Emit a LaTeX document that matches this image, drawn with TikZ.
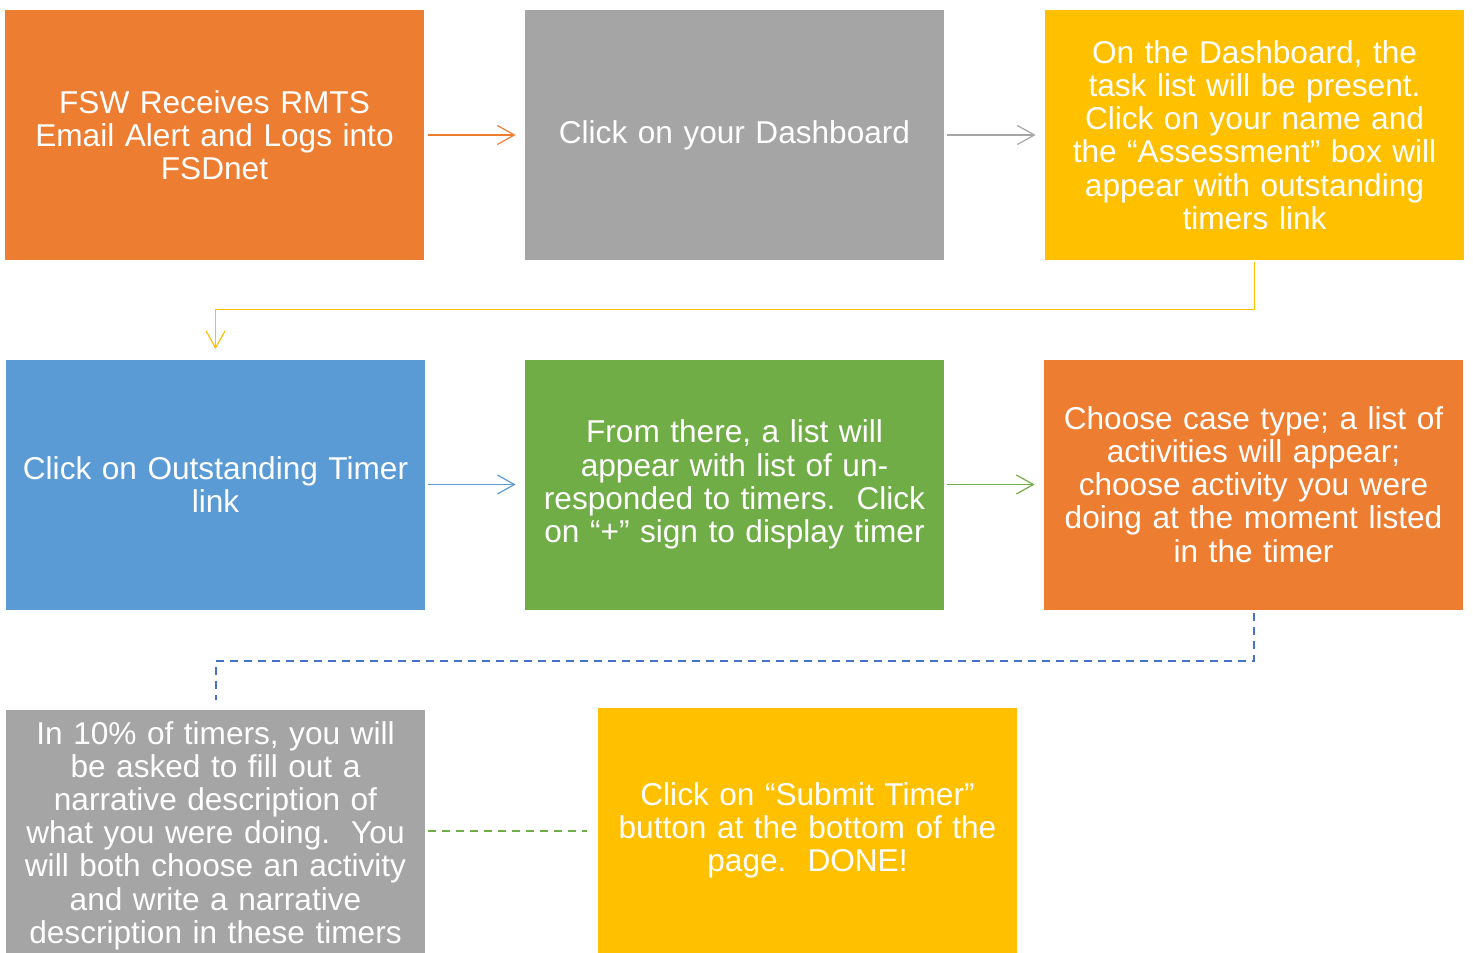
\documentclass[tikz,border=0pt]{standalone}
\usepackage{fontspec}
\setmainfont{Liberation Sans}
\usetikzlibrary{arrows.meta}

\definecolor{boxorange}{HTML}{ED7D31}
\definecolor{boxgray}{HTML}{A5A5A5}
\definecolor{boxyellow}{HTML}{FFC000}
\definecolor{boxblue}{HTML}{5B9BD5}
\definecolor{boxgreen}{HTML}{70AD47}
\definecolor{dashblue}{HTML}{4472C4}

\begin{document}
\begin{tikzpicture}[x=0.5pt, y=-0.5pt,
	stepbox/.style={minimum width=209.5pt, minimum height=125pt, inner sep=0pt,
		text width=207pt, align=center, text=white, font=\fontsize{15.8}{16.6}\selectfont},
	link/.style={line width=0.6pt, -{Straight Barb[length=8.5pt,width=9.5pt]}},
	dashlink/.style={line width=1pt, dash pattern=on 4pt off 3pt}]

\useasboundingbox (0,0) rectangle (1473,953);

%% first row
\node[stepbox, fill=boxorange] (rmts) at (214.5,135) {FSW Receives RMTS\\Email Alert and Logs into\\FSDnet};
\node[stepbox, fill=boxgray] (dash) at (734.5,135) {Click on your Dashboard};
\node[stepbox, fill=boxyellow] (task) at (1254.5,135) {On the Dashboard, the\\task list will be present.\\Click on your name and\\the “Assessment” box will\\appear with outstanding\\timers link};

%% second row
\node[stepbox, fill=boxblue] (timer) at (215.5,484.5) {Click on Outstanding Timer\\link};
\node[stepbox, fill=boxgreen] (list) at (734.5,484.5) {From there, a list will\\appear with list of un-\\responded to timers.\ \ Click\\on “+” sign to display timer};
\node[stepbox, fill=boxorange] (case) at (1253.5,484.5) {Choose case type; a list of\\activities will appear;\\choose activity you were\\doing at the moment listed\\in the timer};

%% third row
\node[stepbox, fill=boxgray, minimum height=121.5pt] (narr) at (215.5,831.5) {};
\node[stepbox, fill=boxyellow, minimum height=122.5pt] (submit) at (807.5,830.5) {Click on “Submit Timer”\\button at the bottom of the\\page.\ \ DONE!};
\node[stepbox, minimum height=0pt] (narrtext) at ([yshift=-2pt]narr.center) {In 10\% of timers, you will\\be asked to fill out a\\narrative description of\\what you were doing.\ \ You\\will both choose an activity\\and write a narrative\\description in these timers};

%% connectors
\draw[link, boxorange, shorten <=2pt, shorten >=4.5pt] (rmts.east) -- (dash.west);
\draw[link, boxgray, shorten <=1.5pt, shorten >=4.5pt] (dash.east) -- (task.west);
\draw[link, boxyellow, shorten <=1pt, shorten >=5pt] (task.south) -- ++(0,49) -| (timer.north);

\draw[link, boxblue, shorten <=1.5pt, shorten >=4.5pt] (timer.east) -- (list.west);
\draw[link, boxgreen, shorten <=1.5pt, shorten >=4.5pt] (list.east) -- (case.west);
\draw[dashlink, dashblue, shorten <=1.5pt, shorten >=5pt] (case.south) -- ++(0,51) -| (narr.north);

\draw[dashlink, boxgreen, shorten <=1.5pt, shorten >=5.5pt] (narr.east |- submit.west) -- (submit.west);

\end{tikzpicture}
\end{document}
